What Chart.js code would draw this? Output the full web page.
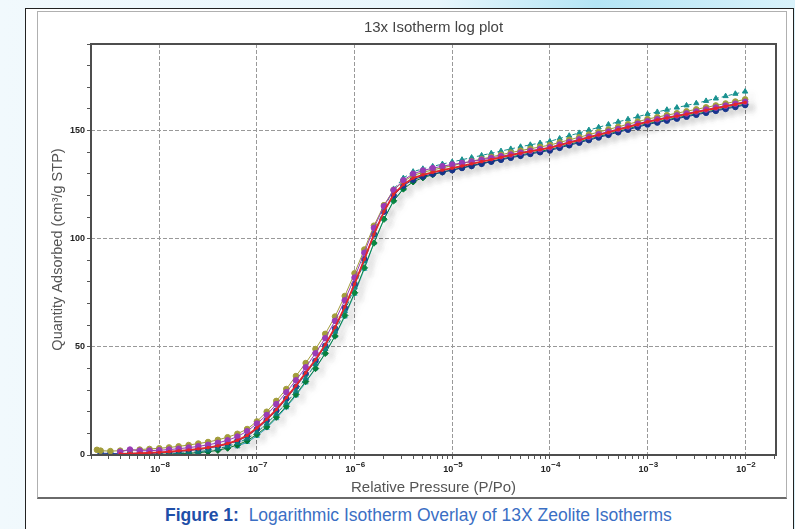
<!DOCTYPE html>
<html>
<head>
<meta charset="utf-8">
<script src="https://cdn.jsdelivr.net/npm/chart.js@4"></script>
<style>
  body {
    margin: 0;
    width: 795px;
    height: 529px;
    overflow: hidden;
    position: relative;
    font-family: "Liberation Sans", Arial, sans-serif;
    background: linear-gradient(to right, #f1f9fd 0%, #e8f6fc 55%, #b4e5f5 75%, #d9f2fb 100%);
  }
  #frame {
    position: absolute;
    left: 25px;
    top: 8px;
    width: 767px;
    height: 530px;
    background: #fff;
    border: 1px solid #222;
    border-bottom: none;
  }
  #panel {
    position: absolute;
    left: 37px;
    top: 11px;
    width: 748px;
    height: 485px;
    background: #fff;
    border: 1px solid #b0b0b0;
    border-bottom: 2px solid #6a6a6a;
  }
  #chart {
    position: absolute;
    left: 38px;
    top: 12px;
  }
  #caption {
    position: absolute;
    left: 165px;
    top: 505px;
    font-size: 17.5px;
    color: #3b6fc4;
    white-space: nowrap;
  }
  #caption b { color: #1f4fa8; }
</style>
</head>
<body>
<div id="frame"></div>
<div id="panel"></div>
<canvas id="chart" width="748" height="485"></canvas>
<div id="caption"><b>Figure 1:</b>&nbsp; Logarithmic Isotherm Overlay of 13X Zeolite Isotherms</div>
<script>
// relative pressure P/Po, 10 points per decade
const pressure = [
  2.3e-9, 2.51e-9, 3.16e-9, 3.98e-9, 5.01e-9, 6.31e-9, 7.94e-9,
  1e-8, 1.26e-8, 1.58e-8, 2e-8, 2.51e-8, 3.16e-8, 3.98e-8, 5.01e-8, 6.31e-8, 7.94e-8,
  1e-7, 1.26e-7, 1.58e-7, 2e-7, 2.51e-7, 3.16e-7, 3.98e-7, 5.01e-7, 6.31e-7, 7.94e-7,
  1e-6, 1.26e-6, 1.58e-6, 2e-6, 2.51e-6, 3.16e-6, 3.98e-6, 5.01e-6, 6.31e-6, 7.94e-6,
  1e-5, 1.26e-5, 1.58e-5, 2e-5, 2.51e-5, 3.16e-5, 3.98e-5, 5.01e-5, 6.31e-5, 7.94e-5,
  1e-4, 1.26e-4, 1.58e-4, 2e-4, 2.51e-4, 3.16e-4, 3.98e-4, 5.01e-4, 6.31e-4, 7.94e-4,
  1e-3, 1.26e-3, 1.58e-3, 2e-3, 2.51e-3, 3.16e-3, 3.98e-3, 5.01e-3, 6.31e-3, 7.94e-3,
  1e-2
];

// quantity adsorbed (cm3/g STP) for each run
const redRun = [
  null, null, null, 0.5, 0.6, 0.8, 1.0,
  1.2, 1.5, 1.9, 2.3, 2.8, 3.4, 4.2, 5.3, 6.8, 9.0,
  12.5, 16.5, 21, 26.5, 32, 38, 44, 51, 59, 68.5,
  79, 90.5, 102, 112.5, 120.5, 125, 128, 129.5, 130.7, 131.7,
  132.6, 133.6, 134.6, 135.6, 136.6, 137.6, 138.6, 139.5, 140.4, 141.2,
  142.0, 143.2, 144.4, 145.6, 146.8, 148.0, 149.2, 150.4, 151.6, 152.8,
  154.0, 154.9, 155.8, 156.7, 157.6, 158.5, 159.4, 160.3, 161.2, 162.1,
  163.0
];
const oliveRun = [
  2.4, 2.0, 1.8, 2.0, 2.2, 2.5, 2.8,
  3.1, 3.5, 4.0, 4.6, 5.3, 6.0, 7.0, 8.2, 9.8, 12.0,
  15.5, 20, 25, 30.5, 36.5, 42.5, 49, 56, 64, 73.5,
  84, 95, 106, 115.5, 122.5, 126.5, 129.2, 130.7, 131.8, 132.8,
  133.8, 134.8, 135.8, 136.8, 137.8, 138.8, 139.8, 140.7, 141.6, 142.4,
  143.3, 144.5, 145.7, 146.9, 148.1, 149.3, 150.5, 151.7, 152.9, 154.1,
  155.3, 156.2, 157.1, 158.0, 158.9, 159.8, 160.7, 161.6, 162.5, 163.4,
  164.4
];
const blueRun = [
  null, 0.8, 0.7, 0.6, 0.6, 0.7, 0.8,
  1.0, 1.3, 1.7, 2.1, 2.6, 3.2, 4.0, 5.1, 6.5, 8.6,
  12.0, 16, 20.5, 26, 31.5, 37.5, 43.5, 50.5, 58.5, 68,
  79, 90.5, 102, 112.5, 120, 124.5, 127.3, 128.8, 129.9, 130.8,
  131.7, 132.7, 133.6, 134.6, 135.6, 136.5, 137.4, 138.3, 139.2, 140.0,
  140.8, 142.0, 143.2, 144.4, 145.6, 146.8, 148.0, 149.2, 150.4, 151.6,
  152.8, 153.7, 154.6, 155.5, 156.4, 157.3, 158.2, 159.1, 160.0, 160.9,
  161.8
];
const purpleRun = [
  null, null, null, 1.5, 2.5, 2.0, 2.0,
  2.2, 2.5, 2.9, 3.4, 4.0, 4.7, 5.6, 6.8, 8.5, 11.0,
  14.5, 18.5, 23.5, 29, 34.5, 40.5, 47, 54, 62, 71.5,
  82, 93.5, 105, 115, 122.5, 127, 130, 131.5, 132.6, 133.5,
  134.3, 135, 135.7, 136.5, 137.3, 138.1, 138.9, 139.8, 140.6, 141.4,
  142.2, 143.5, 144.7, 145.9, 147.1, 148.3, 149.5, 150.7, 151.9, 153.1,
  154.3, 155.2, 156.1, 157.0, 157.9, 158.8, 159.7, 160.6, 161.5, 162.4,
  163.3
];
const greenRun = [
  null, null, null, null, 0.2, 0.2, 0.3,
  0.3, 0.4, 0.6, 0.8, 1.1, 1.5, 2.2, 3.2, 4.6, 6.6,
  9.5, 13, 17.5, 22.5, 28, 34, 40, 47, 55, 64.5,
  75, 86.5, 98, 109, 117.5, 123, 126.3, 128.2, 129.6, 130.8,
  131.8, 132.8, 133.8, 134.8, 135.8, 136.8, 137.8, 138.7, 139.6, 140.4,
  141.2, 142.4, 143.6, 144.8, 146.0, 147.2, 148.4, 149.6, 150.8, 152.0,
  153.2, 154.1, 155.0, 155.9, 156.8, 157.7, 158.6, 159.5, 160.4, 161.3,
  162.2
];
const tealRun = [
  null, null, null, null, null, null, null,
  0.5, 0.6, 0.8, 1.1, 1.5, 2.1, 2.9, 4.0, 5.5, 7.6,
  10.5, 14.5, 19, 24, 29.5, 35.5, 42, 49, 57, 66.5,
  77.5, 89.5, 102, 114, 123, 128, 131, 132.3, 133.4, 134.5,
  135.5, 136.5, 137.5, 138.5, 139.5, 140.5, 141.5, 142.5, 143.4, 144.2,
  145.0, 146.3, 147.6, 148.9, 150.2, 151.5, 152.8, 154.0, 155.2, 156.4,
  157.6, 158.6, 159.6, 160.6, 161.6, 162.6, 163.7, 164.8, 165.9, 167.0,
  168.0
];
const cyanRun = [
  null, null, null, null, null, null, null,
  null, null, null, null, null, null, null, null, 4.0, 6.0,
  8.8, 12.5, 17, 22, 27.5, 33.5, 40, 47, 55, 64,
  74.5, 86, 98, 109, 117.5, 123, null, null, null, null,
  null, null, null, null, null, null, null, null, null, null,
  null, null, null, null, null, null, null, null, null, null,
  null, null, null, null, null, null, null, null, null, null,
  null
];

const xMajorTicks = [1e-8, 1e-7, 1e-6, 1e-5, 1e-4, 1e-3, 1e-2];
const xTickExponents = ['−8', '−7', '−6', '−5', '−4', '−3', '−2'];
const yLabelStep = 50;

function toPoints(values) {
    return values
        .map((v, i) => ({ x: pressure[i], y: v }))
        .filter(p => p.y !== null);
}

function isDecade(v) {
    const e = Math.log10(v);
    return Math.abs(e - Math.round(e)) < 1e-6;
}

function run(values, color, extra) {
    return Object.assign({
        data: toPoints(values),
        borderColor: color,
        backgroundColor: color,
        borderWidth: 1,
        pointRadius: 2.8,
        pointBorderWidth: 1,
        pointHoverRadius: 2.8,
        tension: 0
    }, extra || {});
}

// plot box around the chart area, soft shadow under the curves
const boxPlugin = {
    id: 'plotBox',
    beforeDatasetsDraw(chart) {
        const ctx = chart.ctx;
        ctx.save();
        ctx.shadowColor = 'rgba(0,0,0,0.14)';
        ctx.shadowBlur = 8;
        ctx.shadowOffsetX = 6;
        ctx.shadowOffsetY = 5;
    },
    afterDatasetsDraw(chart) {
        const ctx = chart.ctx;
        ctx.restore();
        const a = chart.chartArea;
        ctx.save();
        ctx.strokeStyle = '#4e4e4e';
        ctx.lineWidth = 2;
        ctx.strokeRect(a.left, a.top, a.right - a.left, a.bottom - a.top);
        ctx.restore();
    }
};

// x tick labels as 10 with a raised exponent
const expLabels = {
    id: 'expLabels',
    afterDraw(chart) {
        const ctx = chart.ctx;
        const xs = chart.scales.x;
        const y = chart.chartArea.bottom + 17;
        ctx.save();
        ctx.fillStyle = '#222';
        ctx.textBaseline = 'alphabetic';
        xMajorTicks.forEach((t, i) => {
            const px = xs.getPixelForValue(t);
            ctx.font = 'bold 9px "Liberation Sans"';
            ctx.textAlign = 'right';
            ctx.fillText('10', px + 1, y);
            ctx.font = 'bold 8px "Liberation Sans"';
            ctx.textAlign = 'left';
            ctx.fillText(xTickExponents[i], px + 1.5, y - 5);
        });
        ctx.restore();
    }
};

new Chart(document.getElementById('chart'), {
    type: 'line',
    data: {
        datasets: [
            run(redRun, '#e3262b', { borderWidth: 1.8, pointRadius: 1.5, pointStyle: 'rect' }),
            run(purpleRun, '#9a3cb6'),
            run(oliveRun, '#a39d3b'),
            run(tealRun, '#18918f', { borderDash: [4, 3], pointStyle: 'triangle', pointRadius: 3 }),
            run(blueRun, '#2747a8'),
            run(greenRun, '#14964a', { pointStyle: 'rectRot', pointRadius: 3.2 }),
            run(cyanRun, '#4cc8e6', { pointStyle: 'triangle' })
        ]
    },
    options: {
        responsive: false,
        animation: false,
        layout: { padding: { top: 3, right: 10, left: 0, bottom: 0 } },
        plugins: {
            legend: { display: false },
            tooltip: { enabled: false },
            title: {
                display: true,
                fullSize: false,
                text: '13x Isotherm log plot',
                color: '#444',
                font: { family: 'Liberation Sans', size: 15, weight: 'normal' },
                padding: { top: 4, bottom: 7 }
            }
        },
        scales: {
            x: {
                type: 'logarithmic',
                min: 2.0e-9,
                max: 2.07e-2,
                afterBuildTicks: (scale) => {
                    const ticks = [];
                    for (let d = 1e-9; d < 0.1; d *= 10) {
                        for (let m = 1; m <= 9; m++) {
                            const v = m * d;
                            if (v >= scale.min && v <= scale.max) ticks.push({ value: v });
                        }
                    }
                    scale.ticks = ticks;
                },
                afterFit: (scale) => { scale.height = 42; },
                ticks: {
                    autoSkip: false,
                    maxRotation: 0,
                    callback: () => ''
                },
                grid: {
                    color: (ctx) => (ctx.tick && isDecade(ctx.tick.value)) ? '#999' : 'rgba(0,0,0,0)',
                    tickColor: '#555',
                    tickLength: 4,
                    lineWidth: 1
                },
                border: { display: false, dash: [4, 2] },
                title: {
                    display: true,
                    text: 'Relative Pressure (P/Po)',
                    color: '#555',
                    font: { family: 'Liberation Sans', size: 15 },
                    padding: { top: 0, bottom: 0 }
                }
            },
            y: {
                min: 0,
                max: 190,
                afterFit: (scale) => { scale.width = 53; },
                ticks: {
                    stepSize: 10,
                    autoSkip: false,
                    padding: 2,
                    color: '#222',
                    font: { family: 'Liberation Sans', size: 9, weight: 'bold' },
                    callback: (value) => value % yLabelStep === 0 ? String(value) : ''
                },
                grid: {
                    color: (ctx) => (ctx.tick && ctx.tick.value % yLabelStep === 0 && ctx.tick.value > 0) ? '#999' : 'rgba(0,0,0,0)',
                    tickColor: '#555',
                    tickLength: 4,
                    lineWidth: 1
                },
                border: { display: false, dash: [4, 2] },
                title: {
                    display: true,
                    align: 'center',
                    text: 'Quantity Adsorbed (cm³/g STP)',
                    color: '#555',
                    font: { family: 'Liberation Sans', size: 14.5 },
                    padding: { top: 11, bottom: 0 }
                }
            }
        }
    },
    plugins: [boxPlugin, expLabels]
});
</script>
</body>
</html>
